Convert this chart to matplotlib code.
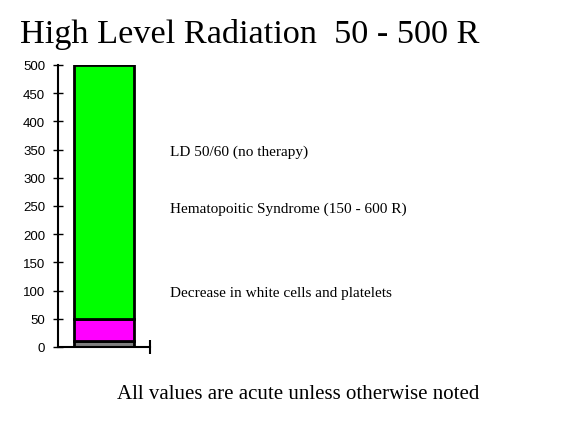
import matplotlib
matplotlib.use('Agg')
import matplotlib.pyplot as plt
from matplotlib.transforms import blended_transform_factory

# stacked dose segments (R)
seg_low = [0, 10, 50]
seg_high = [10, 50, 500]
seg_colors = ['#808080', '#ff00ff', '#00ff00']

notes = ['LD 50/60 (no therapy)',
         'Hematopoitic Syndrome (150 - 600 R)',
         'Decrease in white cells and platelets']
note_vals = [350, 250, 100]

yticks = list(range(0, 501, 50))

serif = 'Liberation Serif'
sans = 'Liberation Sans'

fig = plt.figure(figsize=(5.8, 4.35), dpi=100)
ax = fig.add_axes([58/580, 1 - 348/435, 92/580, (348 - 66)/435])

for lo, hi, c in zip(seg_low, seg_high, seg_colors):
  ax.bar(0, hi - lo, bottom=lo, width=0.66, color=c, edgecolor='black', linewidth=2)

ax.set_xlim(-0.5, 0.5)
ax.set_ylim(0, 500)
ax.set_yticks(yticks)
ax.set_xticks([0.5])
ax.set_xticklabels([])
ax.tick_params(axis='y', direction='inout', length=6.5, width=1, labelsize=9.5, pad=6)
ax.tick_params(axis='x', direction='inout', length=9.5, width=1.5)
for lab in ax.get_yticklabels():
  lab.set_family(sans)
for s in ['top', 'right']:
  ax.spines[s].set_visible(False)
for s in ['left', 'bottom']:
  ax.spines[s].set_linewidth(1.5)
ax.patch.set_visible(False)

# notes: x in figure coords, y in data coords
tr = blended_transform_factory(fig.transFigure, ax.transData)
for txt, v in zip(notes, note_vals):
  ax.annotate(txt, xy=(170/580, v), xycoords=tr, xytext=(0, -4),
              textcoords='offset points', fontsize=11, family=serif,
              va='baseline', ha='left', annotation_clip=False)

fig.text(20/580, 1 - 43/435, 'High Level Radiation  50 - 500 R', fontsize=24.7,
         family=serif, va='baseline', ha='left')
fig.text(298/580, 1 - 399/435, 'All values are acute unless otherwise noted', fontsize=15,
         family=serif, va='baseline', ha='center')

fig.savefig('out.png', dpi=100)
